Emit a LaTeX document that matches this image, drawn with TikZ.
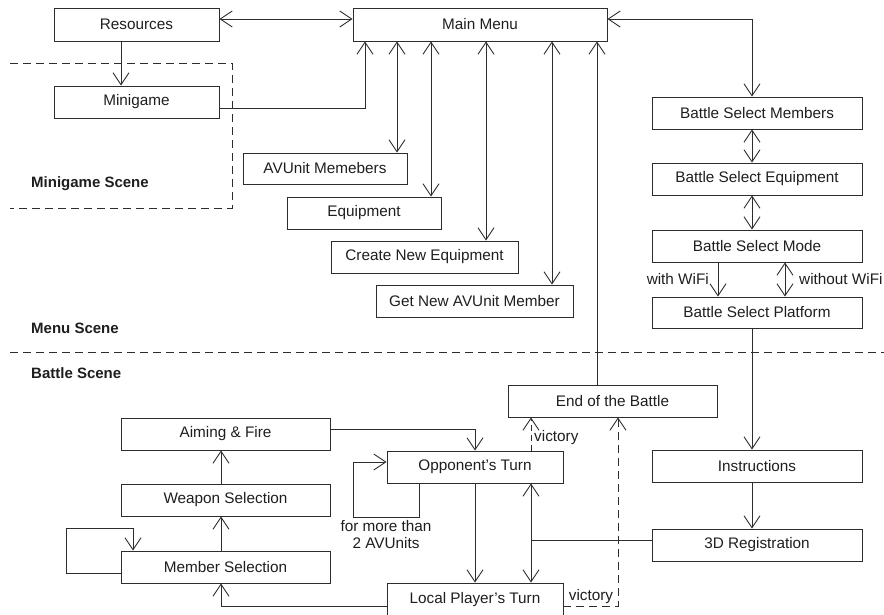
\documentclass[tikz,border=0pt]{standalone}
\usepackage{fontspec}
\setmainfont{Liberation Sans}
\usetikzlibrary{arrows.meta}
\definecolor{ln}{RGB}{45,45,45}
\definecolor{tx}{RGB}{30,30,30}
\tikzset{
  box/.style={draw=ln, line width=0.9pt, rectangle, inner sep=0pt, text=tx, font=\fontsize{15.3}{18}\selectfont},
  lbl/.style={inner sep=0pt, text=tx, font=\fontsize{15.3}{18}\selectfont},
  scn/.style={inner sep=0pt, text=tx, font=\fontsize{15}{18}\selectfont\bfseries, anchor=west},
  con/.style={draw=ln, line width=0.9pt},
  arr/.style={con, -{Straight Barb[length=12pt,width=16pt]}},
  dbl/.style={con, {Straight Barb[length=12pt,width=16pt]}-{Straight Barb[length=12pt,width=16pt]}},
  dsh/.style={draw=ln, line width=0.9pt, dash pattern=on 8pt off 5pt},
}
\begin{document}
\begin{tikzpicture}[x=1pt,y=-1pt]
\useasboundingbox (0,0) rectangle (884,614);
% regions
\draw[dsh] (10,63) -- (232,63) -- (232,208) -- (10,208);
\draw[dsh] (10,352) -- (884,352);
\node[scn] (lminis) at (31,184) {Minigame Scene};
\node[scn] (lmenus) at (31,328) {Menu Scene};
\node[scn] (lbatts) at (31,373) {Battle Scene};
% nodes
\node[box, minimum width=165pt, minimum height=33pt] (res) at (136.5,24.5) {Resources};
\node[box, minimum width=165pt, minimum height=32pt] (mini) at (136.5,102) {Minigame};
\node[box, minimum width=254pt, minimum height=33pt] (mm) at (480,24.5) {Main Menu};
\node[box, minimum width=164pt, minimum height=31pt] (avm) at (325,168.5) {AVUnit Memebers};
\node[box, minimum width=154pt, minimum height=32pt] (eq) at (364,213) {Equipment};
\node[box, minimum width=187pt, minimum height=32pt] (cne) at (424.5,257) {Create New Equipment};
\node[box, minimum width=197pt, minimum height=32pt] (gnm) at (474.5,301) {Get New AVUnit Member};
\node[box, minimum width=210pt, minimum height=32pt] (bsm) at (757,113) {Battle Select Members};
\node[box, minimum width=210pt, minimum height=32pt] (bse) at (757,179) {Battle Select Equipment};
\node[box, minimum width=210pt, minimum height=32pt] (bsmo) at (757,246) {Battle Select Mode};
\node[box, minimum width=210pt, minimum height=31pt] (bsp) at (757,312.5) {Battle Select Platform};
\node[box, minimum width=209pt, minimum height=32pt] (end) at (612.5,401) {End of the Battle};
\node[box, minimum width=209pt, minimum height=32pt] (aim) at (225.5,434) {Aiming \& Fire};
\node[box, minimum width=176pt, minimum height=32pt] (opp) at (475,467) {Opponent{\char39}s Turn};
\node[box, minimum width=210pt, minimum height=32pt] (ins) at (757,466) {Instructions};
\node[box, minimum width=209pt, minimum height=32pt] (wep) at (225.5,500) {Weapon Selection};
\node[box, minimum width=210pt, minimum height=32pt] (reg) at (757,545) {3D Registration};
\node[box, minimum width=209pt, minimum height=32pt] (mem) at (225.5,567) {Member Selection};
\node[box, minimum width=176pt, minimum height=33pt] (loc) at (475,599.5) {Local Player{\char39}s Turn};
% menu connectors
\draw[dbl] (res.east |- 0,19) -- (mm.west |- 0,19);
\draw[arr] (121,0 |- res.south) -- (121,0 |- mini.north);
\draw[arr] (mini.east |- 0,108) -| (365,0 |- mm.south);
\draw[dbl] (397,0 |- mm.south) -- (397,0 |- avm.north);
\draw[dbl] (431,0 |- mm.south) -- (431,0 |- eq.north);
\draw[dbl] (486,0 |- mm.south) -- (486,0 |- cne.north);
\draw[dbl] (552,0 |- mm.south) -- (552,0 |- gnm.north);
\draw[arr] (597,0 |- end.north) -- (597,0 |- mm.south);
\draw[dbl] (mm.east |- 0,19) -| (752,0 |- bsm.north);
\draw[dbl] (752,0 |- bsm.south) -- (752,0 |- bse.north);
\draw[dbl] (752,0 |- bse.south) -- (752,0 |- bsmo.north);
\draw[arr] (718,0 |- bsmo.south) -- (718,0 |- bsp.north);
\draw[dbl] (785,0 |- bsmo.south) -- (785,0 |- bsp.north);
\node[lbl, anchor=east] (lwith) at (709,279) {with WiFi};
\node[lbl, anchor=west] (lwithout) at (799,279) {without WiFi};
% battle connectors
\draw[arr] (752,0 |- bsp.south) -- (752,0 |- ins.north);
\draw[arr] (752,0 |- ins.south) -- (752,0 |- reg.north);
\coordinate (j) at (531,540);
\draw[con] (reg.west |- j) -- (j);
\draw[dbl] (531,0 |- opp.south) -- (531,0 |- loc.north);
\draw[arr] (475,0 |- opp.south) -- (475,0 |- loc.north);
\draw[arr] (419,0 |- opp.south) -- (419,517) -- (353,517) -- (353,462) -- (opp.west |- 0,462);
\node[lbl, align=center, font=\fontsize{15.3}{17}\selectfont] (lmore) at (386,534.5) {for more than\\2 AVUnits};
\draw[arr, dash pattern=on 6pt off 4pt] (531,0 |- opp.north) -- (531,0 |- end.south);
\node[lbl, anchor=west] (lvic1) at (534,438) {victory};
\draw[arr, dash pattern=on 8pt off 5pt] (loc.east |- 0,606) -| (618,0 |- end.south);
\node[lbl] (lvic2) at (591,597) {victory};
\draw[arr] (aim.east |- 0,429) -| (475,0 |- opp.north);
\draw[arr] (221,0 |- mem.north) -- (221,0 |- wep.south);
\draw[arr] (221,0 |- wep.north) -- (221,0 |- aim.south);
\draw[arr] (mem.west |- 0,573) -- (66,573) -- (66,528) -- (133,528) -- (133,0 |- mem.north);
\draw[arr] (loc.west |- 0,606) -| (221,0 |- mem.south);
\end{tikzpicture}
\end{document}
